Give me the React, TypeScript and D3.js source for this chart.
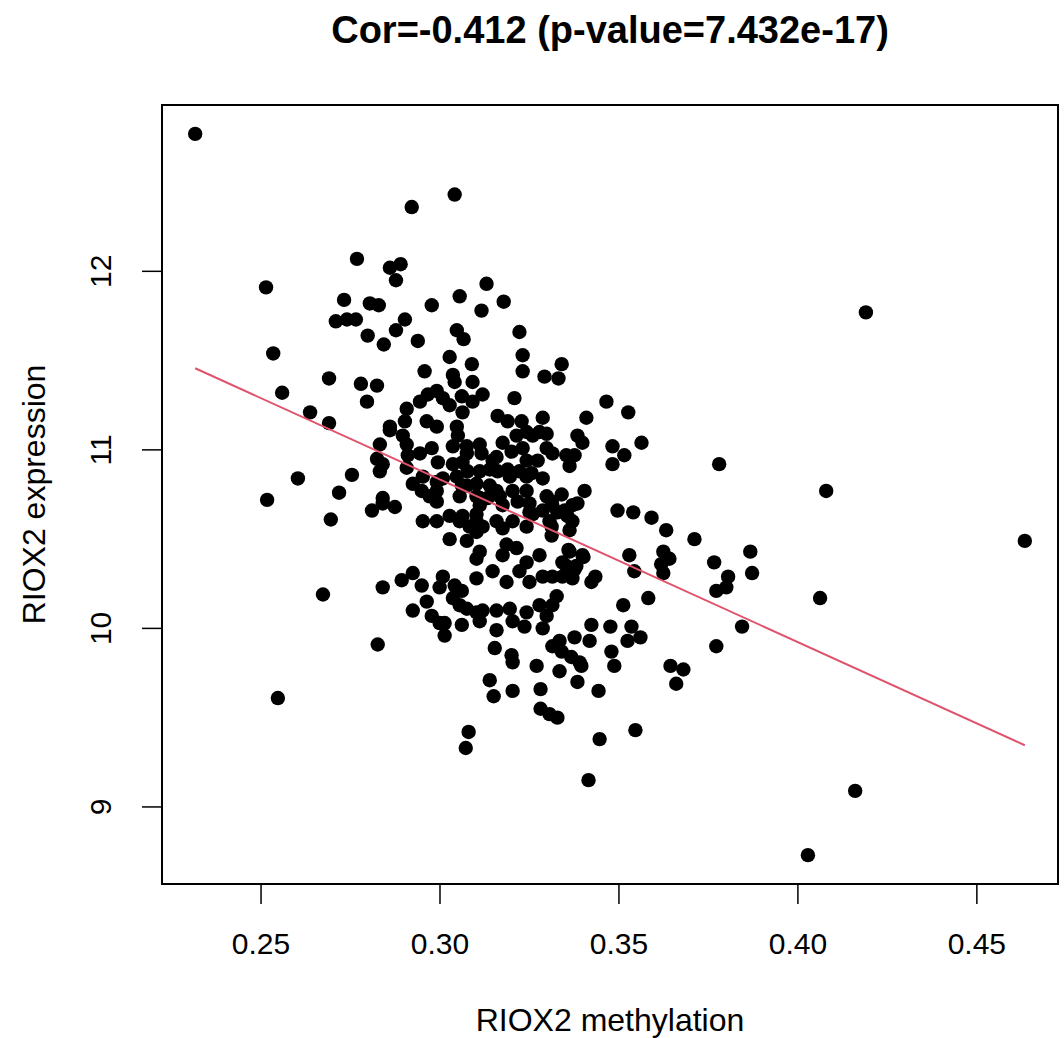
import React from "react";
import * as d3 from "d3";

const title = "Cor=-0.412 (p-value=7.432e-17)";
const xLabel = "RIOX2 methylation";
const yLabel = "RIOX2 expression";
const xTicks = [0.25, 0.3, 0.35, 0.4, 0.45];
const yTicks = [9, 10, 11, 12];
const fitSlope = -9.11;
const fitIntercept = 13.567;

const methylation = [
  0.2316, 0.2921, 0.3041, 0.2768, 0.2514, 0.2860, 0.2890, 0.2877, 0.2732, 0.2804,
  0.2829, 0.2709, 0.2740, 0.2765, 0.2902, 0.2798, 0.2877, 0.2843, 0.2938, 0.2534,
  0.2977, 0.2690, 0.2779, 0.2824, 0.2957, 0.2559, 0.3055, 0.3130, 0.3116, 0.3047,
  0.3066, 0.3027, 0.3089, 0.3036, 0.3041, 0.3091, 0.2796, 0.2637, 0.2690, 0.2944,
  0.2966, 0.2991, 0.3008, 0.3027, 0.2907, 0.2902, 0.3061, 0.3063, 0.3091, 0.2860,
  0.2963, 0.2991, 0.3047, 0.3222, 0.3231, 0.3231, 0.3340, 0.3292, 0.3331, 0.3119,
  0.3208, 0.3050, 0.3161, 0.3189, 0.3228, 0.3287, 0.3298, 0.3242, 0.3214, 0.3259,
  0.2860, 0.2896, 0.2832, 0.2907, 0.2910, 0.2944, 0.2977, 0.2994, 0.3036, 0.3075,
  0.3111, 0.3116, 0.3175, 0.3200, 0.3231, 0.3242, 0.3273, 0.3158, 0.3314, 0.3353,
  0.3384, 0.3376, 0.2840, 0.2832, 0.2907, 0.3036, 0.3047, 0.3077, 0.3111, 0.3147,
  0.3161, 0.3189, 0.3222, 0.3256, 0.3287, 0.2924, 0.2949, 0.2991, 0.2991, 0.3061,
  0.3055, 0.3102, 0.3102, 0.3139, 0.3111, 0.3133, 0.3167, 0.3203, 0.3242, 0.3217,
  0.3250, 0.3298, 0.3340, 0.3314, 0.2840, 0.2874, 0.2952, 0.2991, 0.3027, 0.3055,
  0.3102, 0.3158, 0.3203, 0.3259, 0.3306, 0.3348, 0.2824, 0.2952, 0.2991, 0.2603,
  0.2754, 0.2718, 0.2840, 0.2810, 0.2695, 0.3083, 0.3027, 0.3075, 0.3102, 0.3102,
  0.3102, 0.2673, 0.2840, 0.2893, 0.2924, 0.2949, 0.3008, 0.2999, 0.3041, 0.3061,
  0.3036, 0.2924, 0.2963, 0.2977, 0.3075, 0.3102, 0.2999, 0.3061, 0.3075, 0.3063,
  0.3278, 0.3298, 0.3362, 0.3398, 0.3482, 0.3515, 0.3482, 0.3008, 0.3139, 0.3195,
  0.3242, 0.3075, 0.3111, 0.3158, 0.3175, 0.3250, 0.3242, 0.3287, 0.3312, 0.3370,
  0.3404, 0.3356, 0.3362, 0.3312, 0.2971, 0.3063, 0.3102, 0.3119, 0.3175, 0.3186,
  0.3496, 0.3529, 0.3111, 0.3175, 0.3214, 0.3242, 0.3278, 0.3362, 0.3398, 0.3353,
  0.3381, 0.3434, 0.3147, 0.3186, 0.3222, 0.3250, 0.3287, 0.3314, 0.3342, 0.3326,
  0.3314, 0.3512, 0.3158, 0.3195, 0.3242, 0.3278, 0.3298, 0.3119, 0.3111, 0.3423,
  0.3013, 0.3013, 0.3055, 0.3203, 0.3236, 0.3158, 0.3287, 0.3153, 0.3200, 0.3203,
  0.3270, 0.3314, 0.3334, 0.3340, 0.3367, 0.3390, 0.3395, 0.3334, 0.3376, 0.3418,
  0.3384, 0.3476, 0.3479, 0.3487, 0.3524, 0.3139, 0.3150, 0.3203, 0.3281, 0.3281,
  0.3306, 0.3328, 0.3443, 0.2826, 0.3080, 0.3072, 0.3446, 0.3415, 0.3465, 0.3526,
  0.3409, 0.3563, 0.3780, 0.3384, 0.3328, 0.3540, 0.3591, 0.3632, 0.3711, 0.3370,
  0.3312, 0.3359, 0.3401, 0.3342, 0.3376, 0.3370, 0.3423, 0.3543, 0.3624, 0.3641,
  0.3618, 0.3624, 0.3766, 0.3867, 0.3805, 0.3800, 0.3772, 0.3872, 0.3582, 0.3535,
  0.3844, 0.4190, 0.4079, 0.4634, 0.4062, 0.3772, 0.4160, 0.4028, 0.2517, 0.2547,
  0.3178, 0.3560, 0.3644, 0.3680, 0.3660, 0.3546,
];

const expression = [
  12.77, 12.36, 12.43, 12.07, 11.91, 12.02, 12.04, 11.95, 11.84, 11.82,
  11.81, 11.72, 11.73, 11.73, 11.73, 11.64, 11.67, 11.59, 11.61, 11.54,
  11.81, 11.40, 11.37, 11.36, 11.44, 11.32, 11.86, 11.93, 11.78, 11.67,
  11.62, 11.52, 11.48, 11.42, 11.38, 11.38, 11.27, 11.21, 11.15, 11.27,
  11.31, 11.33, 11.29, 11.25, 11.23, 11.16, 11.30, 11.21, 11.27, 11.13,
  11.16, 11.13, 11.13, 11.66, 11.53, 11.44, 11.48, 11.41, 11.40, 11.31,
  11.29, 11.08, 11.19, 11.16, 11.16, 11.18, 11.09, 11.10, 11.08, 11.08,
  11.11, 11.08, 11.03, 11.03, 10.97, 10.98, 11.01, 10.93, 11.02, 10.98,
  11.03, 10.98, 11.04, 10.99, 11.01, 10.94, 10.94, 10.96, 10.98, 10.97,
  11.08, 10.97, 10.92, 10.88, 10.90, 10.92, 10.85, 10.88, 10.88, 10.94,
  10.88, 10.89, 10.88, 10.87, 10.84, 10.81, 10.77, 10.82, 10.71, 10.80,
  10.74, 10.81, 10.74, 10.80, 10.69, 10.73, 10.74, 10.77, 10.77, 10.71,
  10.70, 10.74, 10.75, 10.69, 10.70, 10.68, 10.60, 10.60, 10.63, 10.60,
  10.60, 10.60, 10.60, 10.64, 10.60, 10.66, 10.95, 10.85, 10.77, 10.84,
  10.86, 10.76, 10.73, 10.66, 10.61, 10.57, 10.50, 10.49, 10.54, 10.39,
  10.28, 10.19, 10.23, 10.27, 10.31, 10.24, 10.29, 10.23, 10.24, 10.21,
  10.17, 10.10, 10.15, 10.07, 10.11, 10.09, 10.03, 10.02, 11.02, 10.93,
  11.10, 11.01, 10.91, 11.04, 11.02, 10.97, 10.92, 10.84, 10.89, 10.85,
  10.85, 10.80, 10.73, 10.77, 10.69, 10.65, 10.57, 10.66, 10.71, 10.69,
  10.77, 10.63, 10.55, 10.52, 10.74, 10.63, 10.64, 10.57, 10.56, 10.47,
  10.66, 10.41, 10.43, 10.41, 10.45, 10.37, 10.41, 10.43, 10.41, 10.35,
  10.35, 10.29, 10.32, 10.26, 10.32, 10.26, 10.29, 10.29, 10.29, 10.18,
  10.13, 10.13, 10.10, 10.11, 10.09, 10.13, 10.07, 10.10, 10.04, 10.02,
  10.03, 9.96, 10.13, 10.04, 10.01, 9.99, 10.00, 9.89, 9.85, 9.81,
  9.79, 9.90, 9.93, 9.87, 9.84, 9.81, 9.79, 9.76, 9.95, 9.93,
  9.70, 10.01, 9.87, 9.79, 9.93, 9.71, 9.62, 9.65, 9.66, 9.55,
  9.52, 9.50, 9.65, 9.91, 9.42, 9.33, 9.38, 9.15, 11.27, 11.21,
  11.18, 11.04, 10.92, 10.70, 10.65, 10.65, 10.62, 10.55, 10.50, 10.60,
  10.57, 10.44, 10.40, 10.37, 10.33, 10.28, 10.26, 10.32, 10.43, 10.39,
  10.36, 10.31, 10.37, 10.43, 10.29, 10.23, 10.21, 10.31, 10.17, 10.01,
  10.01, 11.77, 10.77, 10.49, 10.17, 9.90, 9.09, 8.73, 10.72, 9.61,
  11.83, 9.95, 9.79, 9.77, 9.69, 9.43,
];

const W = 1064;
const H = 1038;
const M = { left: 162, right: 1058, top: 105, bottom: 884 };
const FONT = "'Liberation Sans', Arial, sans-serif";

export default function App() {
  const xExt = d3.extent(methylation) as [number, number];
  const yExt = d3.extent(expression) as [number, number];
  const xPad = (xExt[1] - xExt[0]) * 0.04;
  const yPad = (yExt[1] - yExt[0]) * 0.04;
  const x = d3.scaleLinear().domain([xExt[0] - xPad, xExt[1] + xPad]).range([M.left, M.right]);
  const y = d3.scaleLinear().domain([yExt[0] - yPad, yExt[1] + yPad]).range([M.bottom, M.top]);
  const fitLine = d3
    .line<number>()
    .x((d) => x(d))
    .y((d) => y(fitIntercept + fitSlope * d));
  const cx = (M.left + M.right) / 2;
  const cy = (M.top + M.bottom) / 2;
  const tickLen = 20;

  return (
    <svg
      width={W}
      height={H}
      style={{ position: "absolute", left: 0, top: 0, background: "#fff" }}
      fontFamily={FONT}
    >
      <rect x={0} y={0} width={W} height={H} fill="#fff" />
      <text x={cx} y={43} textAnchor="middle" fontSize={38} fontWeight="bold" fill="#000">
        {title}
      </text>
      {methylation.map((m, i) => (
        <circle key={i} cx={x(m)} cy={y(expression[i])} r={7.2} fill="#000" />
      ))}
      <path d={fitLine([xExt[0], xExt[1]]) || ""} stroke="#DF536B" strokeWidth={2} fill="none" />
      <rect
        x={M.left}
        y={M.top}
        width={M.right - M.left}
        height={M.bottom - M.top}
        fill="none"
        stroke="#000"
        strokeWidth={2}
      />
      {xTicks.map((t) => (
        <g key={"x" + t}>
          <line x1={x(t)} x2={x(t)} y1={M.bottom} y2={M.bottom + tickLen} stroke="#000" strokeWidth={1.5} />
          <text x={x(t)} y={M.bottom + 70} textAnchor="middle" fontSize={30} fill="#000">
            {t.toFixed(2)}
          </text>
        </g>
      ))}
      {yTicks.map((t) => (
        <g key={"y" + t}>
          <line x1={M.left - tickLen} x2={M.left} y1={y(t)} y2={y(t)} stroke="#000" strokeWidth={1.5} />
          <text
            transform={`translate(${M.left - 51},${y(t)}) rotate(-90)`}
            textAnchor="middle"
            fontSize={30}
            fill="#000"
          >
            {String(t)}
          </text>
        </g>
      ))}
      <text x={cx} y={1031} textAnchor="middle" fontSize={32} fill="#000">
        {xLabel}
      </text>
      <text transform={`translate(45,${cy}) rotate(-90)`} textAnchor="middle" fontSize={32} fill="#000">
        {yLabel}
      </text>
    </svg>
  );
}
